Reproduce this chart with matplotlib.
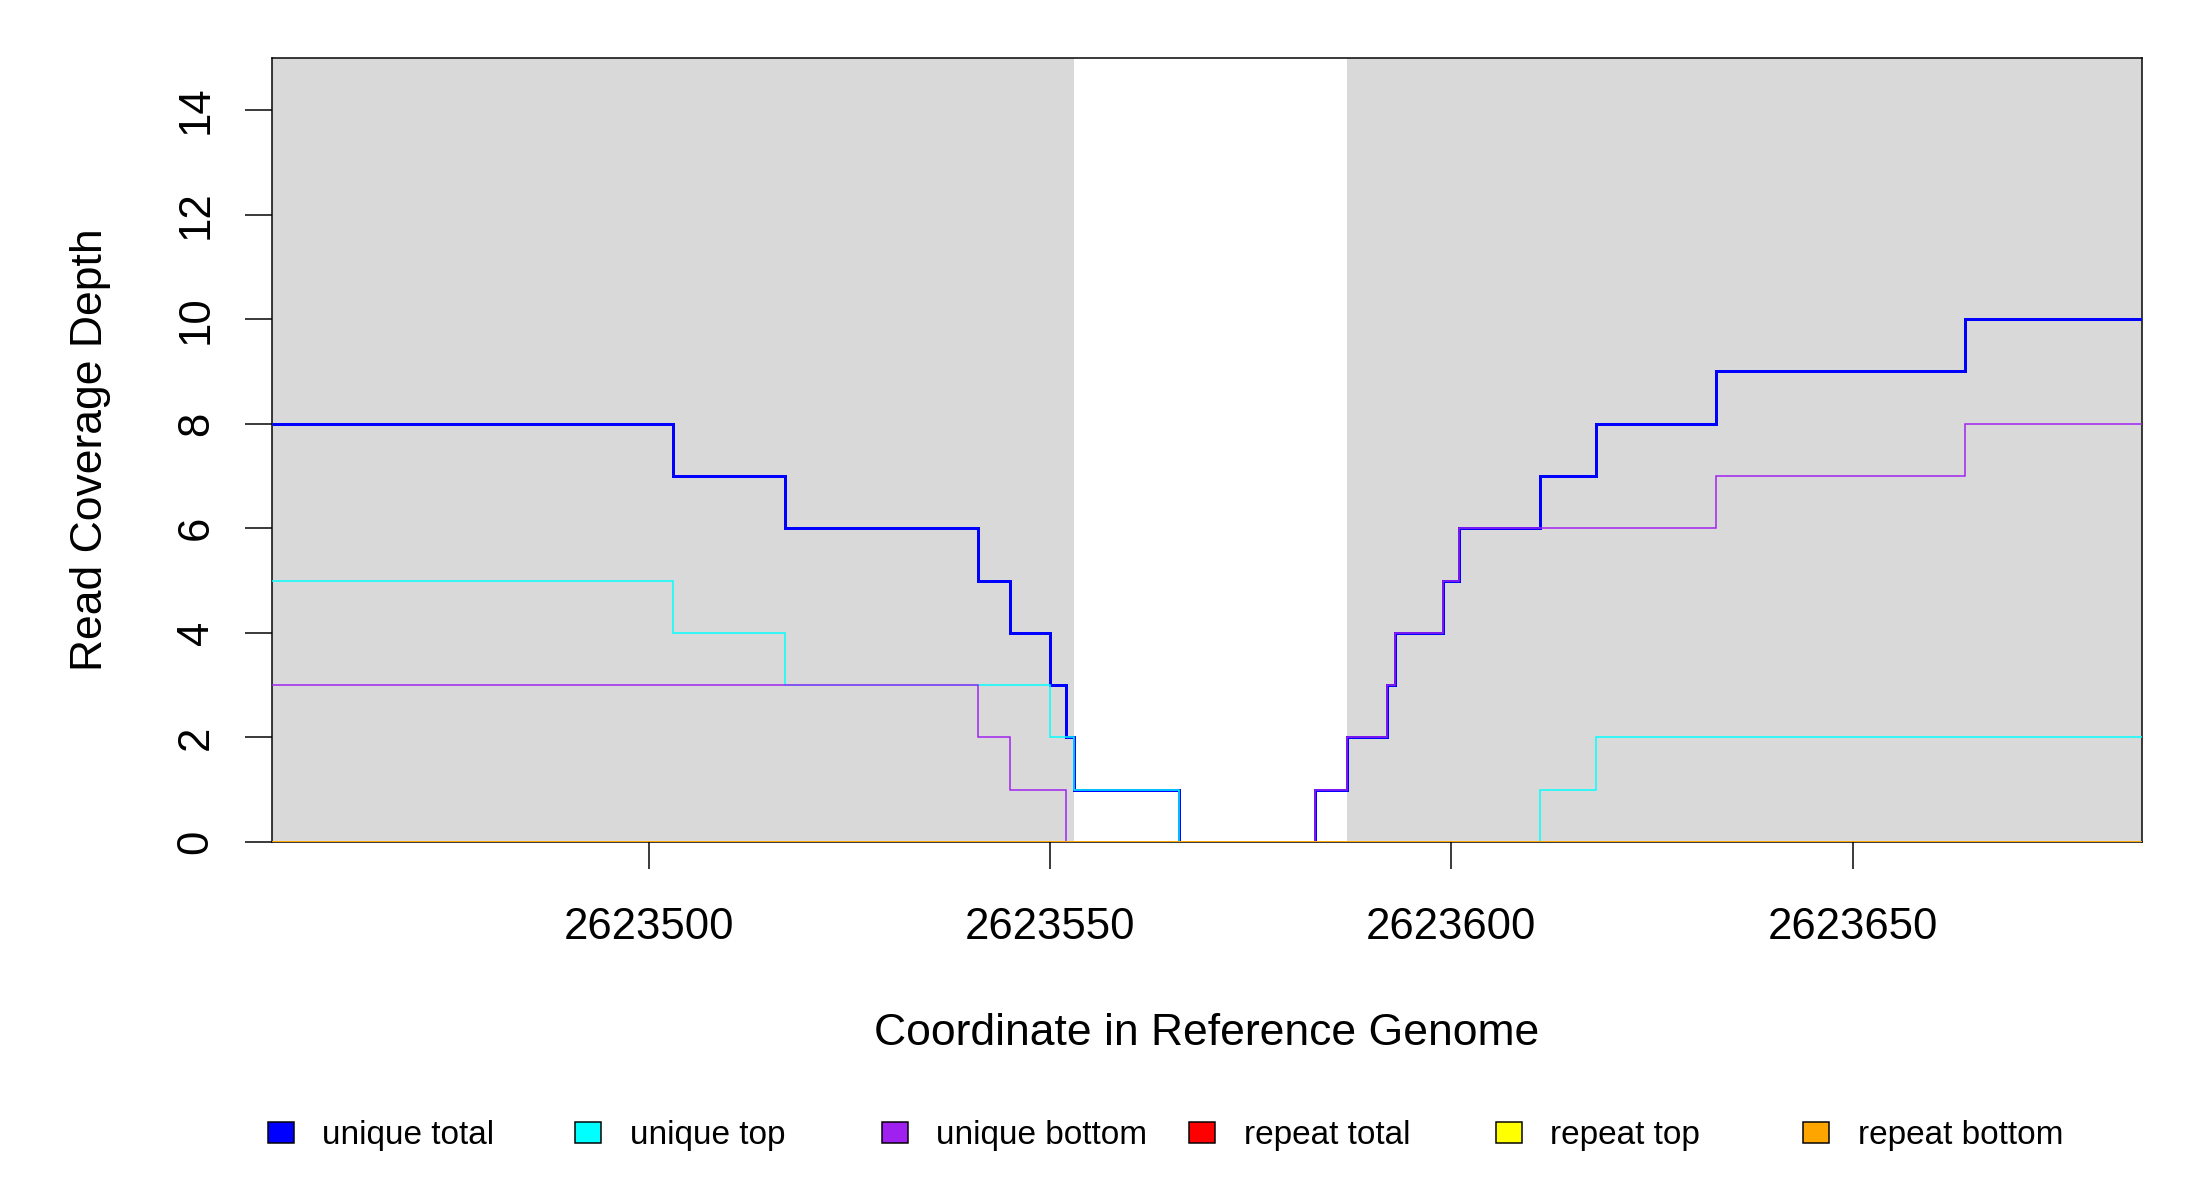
import matplotlib
matplotlib.use("Agg")
import matplotlib.pyplot as plt
from matplotlib.patches import Rectangle

plt.rcParams['font.family'] = ['Liberation Sans', 'DejaVu Sans']

# ---- data ----
edges = [2623453, 2623503, 2623517, 2623541, 2623545, 2623550, 2623552, 2623553,
         2623566, 2623583, 2623587, 2623592, 2623593, 2623599, 2623601, 2623611,
         2623618, 2623633, 2623664, 2623686]
unique_total = [8, 7, 6, 5, 4, 3, 2, 1, 0, 1, 2, 3, 4, 5, 6, 7, 8, 9, 10]
unique_top = [5, 4, 3, 3, 3, 2, 2, 1, 0, 0, 0, 0, 0, 0, 0, 1, 2, 2, 2]
unique_bottom = [3, 3, 3, 2, 1, 1, 0, 0, 0, 1, 2, 3, 4, 5, 6, 6, 6, 7, 8]
repeat_total = [0] * 19
repeat_top = [0] * 19
repeat_bottom = [0] * 19

exon_starts = [2623453, 2623587]
exon_ends = [2623553, 2623686]

series_labels = ["unique total", "unique top", "unique bottom",
                 "repeat total", "repeat top", "repeat bottom"]
series_colors = ["#0000FF", "#00FFFF", "#A020F0", "#FF0000", "#FFFF00", "#FFA500"]
series_widths = [2.16, 1.08, 1.08, 2.16, 1.08, 1.4]
series_values = [unique_total, unique_top, unique_bottom,
                 repeat_total, repeat_top, repeat_bottom]

x_ticks = [2623500, 2623550, 2623600, 2623650]
y_ticks = [0, 2, 4, 6, 8, 10, 12, 14]

W, H = 2200, 1200
fig = plt.figure(figsize=(22, 12), dpi=100)
L, R, T, B = 271.5, 2141.7, 57.7, 842.0
ax = fig.add_axes([L / W, 1 - B / H, (R - L) / W, (B - T) / H])

for s, e in zip(exon_starts, exon_ends):
    ax.axvspan(s, e, color="#D9D9D9", lw=0, zorder=0)

for vals, col, lw in zip(series_values, series_colors, series_widths):
    ax.stairs(vals, edges, baseline=None, color=col, lw=lw, zorder=2)

ax.set_xlim(edges[0], edges[-1])
ax.set_ylim(0, 15)

ax.set_xticks(x_ticks)
ax.set_xticklabels([str(v) for v in x_ticks])
ax.set_yticks(y_ticks)
ax.set_yticklabels([str(v) for v in y_ticks], rotation=90, va="center")

ax.tick_params(axis="both", direction="out", length=19.5, width=1.08,
               labelsize=31.5, color="black")
ax.tick_params(axis="x", pad=27)
ax.tick_params(axis="y", pad=20)

ax.set_axisbelow(False)
for sp in ax.spines.values():
    sp.set_linewidth(1.08)
    sp.set_color("black")
    sp.set_zorder(1.5)

# axis titles
fig.text((L + R) / 2 / W, 1 - 1045 / H, "Coordinate in Reference Genome",
         ha="center", va="baseline", fontsize=32)
fig.text(102 / W, 1 - (T + B) / 2 / H, "Read Coverage Depth",
         ha="center", va="baseline", rotation=90, fontsize=32,
         rotation_mode="anchor")

# legend (R-style horizontal, fixed spacing)
for i, (lab, col) in enumerate(zip(series_labels, series_colors)):
    cx = 280.5 + 307.0 * i
    cy = 1132
    fig.patches.append(Rectangle(((cx - 13) / W, 1 - (cy + 10.5) / H), 26 / W, 21 / H,
                                 transform=fig.transFigure, facecolor=col,
                                 edgecolor="black", lw=1.08))
    fig.text((cx + 42) / W, 1 - 1144 / H, lab, ha="left", va="baseline", fontsize=24)

fig.savefig("out.png", dpi=100, facecolor="white")
